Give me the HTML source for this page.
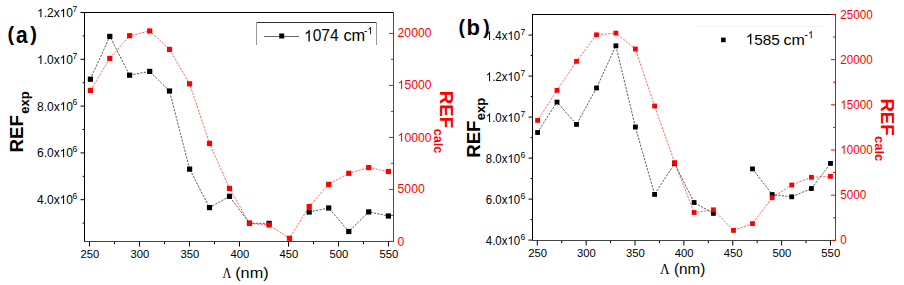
<!DOCTYPE html>
<html><head><meta charset="utf-8"><title>chart</title>
<style>
html,body{margin:0;padding:0;background:#fff;}
body{width:904px;height:285px;overflow:hidden;font-family:"Liberation Sans", sans-serif;}
svg{display:block;}
</style></head><body>
<svg width="904" height="285" viewBox="0 0 904 285">
<rect width="904" height="285" fill="#fff"/>
<polyline points="90.4,79.2 109.8,36.4 129.6,75.2 149.7,71.4 169.5,91.0 189.6,169.1 209.5,207.6 229.5,196.3 249.5,223.2 269.1,223.4" fill="none" stroke="#000" stroke-width="0.65" stroke-dasharray="2.2 1.3"/>
<polyline points="309.2,212.0 328.7,208.0 348.8,231.5 368.7,211.9 388.4,216.0" fill="none" stroke="#000" stroke-width="0.65" stroke-dasharray="2.2 1.3"/>
<polyline points="90.4,90.4 109.8,58.4 129.6,35.7 149.7,31.0 169.5,49.4 189.6,83.8 209.5,143.4 229.5,188.4 249.5,223.4 269.1,225.0 289.5,238.3 309.2,206.5 328.7,184.4 348.8,173.3 368.7,167.6 388.4,171.5" fill="none" stroke="#ff0000" stroke-width="0.6" stroke-dasharray="2.2 1.3"/>
<rect x="87.80" y="76.60" width="5.2" height="5.2" fill="#000"/>
<rect x="107.20" y="33.80" width="5.2" height="5.2" fill="#000"/>
<rect x="127.00" y="72.60" width="5.2" height="5.2" fill="#000"/>
<rect x="147.10" y="68.80" width="5.2" height="5.2" fill="#000"/>
<rect x="166.90" y="88.40" width="5.2" height="5.2" fill="#000"/>
<rect x="187.00" y="166.50" width="5.2" height="5.2" fill="#000"/>
<rect x="206.90" y="205.00" width="5.2" height="5.2" fill="#000"/>
<rect x="226.90" y="193.70" width="5.2" height="5.2" fill="#000"/>
<rect x="246.90" y="220.60" width="5.2" height="5.2" fill="#000"/>
<rect x="266.50" y="220.80" width="5.2" height="5.2" fill="#000"/>
<rect x="306.60" y="209.40" width="5.2" height="5.2" fill="#000"/>
<rect x="326.10" y="205.40" width="5.2" height="5.2" fill="#000"/>
<rect x="346.20" y="228.90" width="5.2" height="5.2" fill="#000"/>
<rect x="366.10" y="209.30" width="5.2" height="5.2" fill="#000"/>
<rect x="385.80" y="213.40" width="5.2" height="5.2" fill="#000"/>
<rect x="87.80" y="87.80" width="5.2" height="5.2" fill="#ff0000"/>
<rect x="107.20" y="55.80" width="5.2" height="5.2" fill="#ff0000"/>
<rect x="127.00" y="33.10" width="5.2" height="5.2" fill="#ff0000"/>
<rect x="147.10" y="28.40" width="5.2" height="5.2" fill="#ff0000"/>
<rect x="166.90" y="46.80" width="5.2" height="5.2" fill="#ff0000"/>
<rect x="187.00" y="81.20" width="5.2" height="5.2" fill="#ff0000"/>
<rect x="206.90" y="140.80" width="5.2" height="5.2" fill="#ff0000"/>
<rect x="226.90" y="185.80" width="5.2" height="5.2" fill="#ff0000"/>
<rect x="246.90" y="220.80" width="5.2" height="5.2" fill="#ff0000"/>
<rect x="266.50" y="222.40" width="5.2" height="5.2" fill="#ff0000"/>
<rect x="286.90" y="235.70" width="5.2" height="5.2" fill="#ff0000"/>
<rect x="306.60" y="203.90" width="5.2" height="5.2" fill="#ff0000"/>
<rect x="326.10" y="181.80" width="5.2" height="5.2" fill="#ff0000"/>
<rect x="346.20" y="170.70" width="5.2" height="5.2" fill="#ff0000"/>
<rect x="366.10" y="165.00" width="5.2" height="5.2" fill="#ff0000"/>
<rect x="385.80" y="168.90" width="5.2" height="5.2" fill="#ff0000"/>
<line x1="84" y1="12.5" x2="393.5" y2="12.5" stroke="#000" stroke-width="1" />
<line x1="84.5" y1="12" x2="84.5" y2="242" stroke="#000" stroke-width="1" />
<line x1="84" y1="241.5" x2="393" y2="241.5" stroke="#444" stroke-width="1" />
<line x1="393.5" y1="12" x2="393.5" y2="242" stroke="#ff0000" stroke-width="1" />
<line x1="80.5" y1="12.5" x2="84" y2="12.5" stroke="#000" stroke-width="1" />
<path d="M763,0L583,0L583,1147Q518,1085 412.5,1023Q307,961 223,930L223,1104Q374,1175 486.5,1276Q599,1377 646,1472L763,1472Z" fill="#000" transform="translate(36.971,17.300) scale(0.00586,-0.00586)"/>
<text x="43.645" y="17.300" font-size="12" fill="#000" font-family='"Liberation Sans", sans-serif' style="white-space:pre">.2x</text>
<path d="M763,0L583,0L583,1147Q518,1085 412.5,1023Q307,961 223,930L223,1104Q374,1175 486.5,1276Q599,1377 646,1472L763,1472Z" fill="#000" transform="translate(59.652,17.300) scale(0.00586,-0.00586)"/>
<text x="66.326" y="17.300" font-size="12" fill="#000" font-family='"Liberation Sans", sans-serif' style="white-space:pre">0</text>
<text x="72.6" y="12.100000000000001" font-size="8.6" fill="#000" text-anchor="start" font-weight="normal" font-family='"Liberation Sans", sans-serif' >7</text>
<line x1="80.5" y1="59.3" x2="84" y2="59.3" stroke="#000" stroke-width="1" />
<path d="M763,0L583,0L583,1147Q518,1085 412.5,1023Q307,961 223,930L223,1104Q374,1175 486.5,1276Q599,1377 646,1472L763,1472Z" fill="#000" transform="translate(36.971,64.000) scale(0.00586,-0.00586)"/>
<text x="43.645" y="64.000" font-size="12" fill="#000" font-family='"Liberation Sans", sans-serif' style="white-space:pre">.0x</text>
<path d="M763,0L583,0L583,1147Q518,1085 412.5,1023Q307,961 223,930L223,1104Q374,1175 486.5,1276Q599,1377 646,1472L763,1472Z" fill="#000" transform="translate(59.652,64.000) scale(0.00586,-0.00586)"/>
<text x="66.326" y="64.000" font-size="12" fill="#000" font-family='"Liberation Sans", sans-serif' style="white-space:pre">0</text>
<text x="72.6" y="58.8" font-size="8.6" fill="#000" text-anchor="start" font-weight="normal" font-family='"Liberation Sans", sans-serif' >7</text>
<line x1="80.5" y1="106.1" x2="84" y2="106.1" stroke="#000" stroke-width="1" />
<text x="36.971" y="110.600" font-size="12" fill="#000" font-family='"Liberation Sans", sans-serif' style="white-space:pre">8.0x</text>
<path d="M763,0L583,0L583,1147Q518,1085 412.5,1023Q307,961 223,930L223,1104Q374,1175 486.5,1276Q599,1377 646,1472L763,1472Z" fill="#000" transform="translate(59.652,110.600) scale(0.00586,-0.00586)"/>
<text x="66.326" y="110.600" font-size="12" fill="#000" font-family='"Liberation Sans", sans-serif' style="white-space:pre">0</text>
<text x="72.6" y="105.39999999999999" font-size="8.6" fill="#000" text-anchor="start" font-weight="normal" font-family='"Liberation Sans", sans-serif' >6</text>
<line x1="80.5" y1="152.9" x2="84" y2="152.9" stroke="#000" stroke-width="1" />
<text x="36.971" y="157.300" font-size="12" fill="#000" font-family='"Liberation Sans", sans-serif' style="white-space:pre">6.0x</text>
<path d="M763,0L583,0L583,1147Q518,1085 412.5,1023Q307,961 223,930L223,1104Q374,1175 486.5,1276Q599,1377 646,1472L763,1472Z" fill="#000" transform="translate(59.652,157.300) scale(0.00586,-0.00586)"/>
<text x="66.326" y="157.300" font-size="12" fill="#000" font-family='"Liberation Sans", sans-serif' style="white-space:pre">0</text>
<text x="72.6" y="152.10000000000002" font-size="8.6" fill="#000" text-anchor="start" font-weight="normal" font-family='"Liberation Sans", sans-serif' >6</text>
<line x1="80.5" y1="199.7" x2="84" y2="199.7" stroke="#000" stroke-width="1" />
<text x="36.971" y="203.900" font-size="12" fill="#000" font-family='"Liberation Sans", sans-serif' style="white-space:pre">4.0x</text>
<path d="M763,0L583,0L583,1147Q518,1085 412.5,1023Q307,961 223,930L223,1104Q374,1175 486.5,1276Q599,1377 646,1472L763,1472Z" fill="#000" transform="translate(59.652,203.900) scale(0.00586,-0.00586)"/>
<text x="66.326" y="203.900" font-size="12" fill="#000" font-family='"Liberation Sans", sans-serif' style="white-space:pre">0</text>
<text x="72.6" y="198.70000000000002" font-size="8.6" fill="#000" text-anchor="start" font-weight="normal" font-family='"Liberation Sans", sans-serif' >6</text>
<line x1="82.6" y1="35.9" x2="84" y2="35.9" stroke="#000" stroke-width="1" />
<line x1="82.6" y1="82.7" x2="84" y2="82.7" stroke="#000" stroke-width="1" />
<line x1="82.6" y1="129.5" x2="84" y2="129.5" stroke="#000" stroke-width="1" />
<line x1="82.6" y1="176.3" x2="84" y2="176.3" stroke="#000" stroke-width="1" />
<line x1="82.6" y1="223.1" x2="84" y2="223.1" stroke="#000" stroke-width="1" />
<line x1="89.5" y1="242" x2="89.5" y2="246.5" stroke="#000" stroke-width="1" />
<text transform="translate(80.385,258.000) scale(1.0450,1)" font-size="10.8" fill="#000" font-family='"Liberation Sans", sans-serif' style="white-space:pre">250</text>
<line x1="139.5" y1="242" x2="139.5" y2="246.5" stroke="#000" stroke-width="1" />
<text transform="translate(130.385,258.000) scale(1.0450,1)" font-size="10.8" fill="#000" font-family='"Liberation Sans", sans-serif' style="white-space:pre">300</text>
<line x1="189.5" y1="242" x2="189.5" y2="246.5" stroke="#000" stroke-width="1" />
<text transform="translate(180.385,258.000) scale(1.0450,1)" font-size="10.8" fill="#000" font-family='"Liberation Sans", sans-serif' style="white-space:pre">350</text>
<line x1="239.5" y1="242" x2="239.5" y2="246.5" stroke="#000" stroke-width="1" />
<text transform="translate(230.385,258.000) scale(1.0450,1)" font-size="10.8" fill="#000" font-family='"Liberation Sans", sans-serif' style="white-space:pre">400</text>
<line x1="288.5" y1="242" x2="288.5" y2="246.5" stroke="#000" stroke-width="1" />
<text transform="translate(279.385,258.000) scale(1.0450,1)" font-size="10.8" fill="#000" font-family='"Liberation Sans", sans-serif' style="white-space:pre">450</text>
<line x1="338.5" y1="242" x2="338.5" y2="246.5" stroke="#000" stroke-width="1" />
<text transform="translate(329.385,258.000) scale(1.0450,1)" font-size="10.8" fill="#000" font-family='"Liberation Sans", sans-serif' style="white-space:pre">500</text>
<line x1="388.5" y1="242" x2="388.5" y2="246.5" stroke="#000" stroke-width="1" />
<text transform="translate(379.385,258.000) scale(1.0450,1)" font-size="10.8" fill="#000" font-family='"Liberation Sans", sans-serif' style="white-space:pre">550</text>
<line x1="114.5" y1="242" x2="114.5" y2="244.2" stroke="#000" stroke-width="1" />
<line x1="164.5" y1="242" x2="164.5" y2="244.2" stroke="#000" stroke-width="1" />
<line x1="214.5" y1="242" x2="214.5" y2="244.2" stroke="#000" stroke-width="1" />
<line x1="313.5" y1="242" x2="313.5" y2="244.2" stroke="#000" stroke-width="1" />
<line x1="363.5" y1="242" x2="363.5" y2="244.2" stroke="#000" stroke-width="1" />
<line x1="389" y1="241.4" x2="393" y2="241.4" stroke="#ff0000" stroke-width="1" />
<text x="397.600" y="245.600" font-size="12.2" fill="#ff0000" font-family='"Liberation Sans", sans-serif' style="white-space:pre">0</text>
<line x1="389" y1="189.4" x2="393" y2="189.4" stroke="#ff0000" stroke-width="1" />
<text x="397.600" y="193.400" font-size="12.2" fill="#ff0000" font-family='"Liberation Sans", sans-serif' style="white-space:pre">5000</text>
<line x1="389" y1="137.4" x2="393" y2="137.4" stroke="#ff0000" stroke-width="1" />
<path d="M763,0L583,0L583,1147Q518,1085 412.5,1023Q307,961 223,930L223,1104Q374,1175 486.5,1276Q599,1377 646,1472L763,1472Z" fill="#ff0000" transform="translate(397.600,141.500) scale(0.00596,-0.00596)"/>
<text x="404.385" y="141.500" font-size="12.2" fill="#ff0000" font-family='"Liberation Sans", sans-serif' style="white-space:pre">0000</text>
<line x1="389" y1="85.4" x2="393" y2="85.4" stroke="#ff0000" stroke-width="1" />
<path d="M763,0L583,0L583,1147Q518,1085 412.5,1023Q307,961 223,930L223,1104Q374,1175 486.5,1276Q599,1377 646,1472L763,1472Z" fill="#ff0000" transform="translate(397.600,89.100) scale(0.00596,-0.00596)"/>
<text x="404.385" y="89.100" font-size="12.2" fill="#ff0000" font-family='"Liberation Sans", sans-serif' style="white-space:pre">5000</text>
<line x1="389" y1="33.4" x2="393" y2="33.4" stroke="#ff0000" stroke-width="1" />
<text x="397.600" y="37.000" font-size="12.2" fill="#ff0000" font-family='"Liberation Sans", sans-serif' style="white-space:pre">20000</text>
<line x1="391" y1="215.4" x2="393" y2="215.4" stroke="#ff0000" stroke-width="1" />
<line x1="391" y1="163.4" x2="393" y2="163.4" stroke="#ff0000" stroke-width="1" />
<line x1="391" y1="111.4" x2="393" y2="111.4" stroke="#ff0000" stroke-width="1" />
<line x1="391" y1="59.4" x2="393" y2="59.4" stroke="#ff0000" stroke-width="1" />
<polyline points="537.6,132.5 557.0,102.1 576.5,124.4 596.5,88.0 615.9,45.8 635.4,127.0 654.6,194.4 674.6,163.5 694.1,202.5 713.4,213.4" fill="none" stroke="#000" stroke-width="0.65" stroke-dasharray="2.2 1.3"/>
<polyline points="752.5,168.9 772.2,194.5 791.7,196.8 811.4,188.5 830.5,163.4" fill="none" stroke="#000" stroke-width="0.65" stroke-dasharray="2.2 1.3"/>
<polyline points="537.6,120.4 557.0,90.4 576.5,61.3 596.5,34.8 615.9,33.1 635.4,49.0 654.6,106.0 674.6,162.6 694.1,212.5 713.4,209.8 733.5,230.4 752.5,223.6 772.2,197.7 791.7,185.0 811.4,177.3 830.5,176.4" fill="none" stroke="#ff0000" stroke-width="0.6" stroke-dasharray="2.2 1.3"/>
<rect x="535.20" y="130.10" width="4.8" height="4.8" fill="#000"/>
<rect x="554.60" y="99.70" width="4.8" height="4.8" fill="#000"/>
<rect x="574.10" y="122.00" width="4.8" height="4.8" fill="#000"/>
<rect x="594.10" y="85.60" width="4.8" height="4.8" fill="#000"/>
<rect x="613.50" y="43.40" width="4.8" height="4.8" fill="#000"/>
<rect x="633.00" y="124.60" width="4.8" height="4.8" fill="#000"/>
<rect x="652.20" y="192.00" width="4.8" height="4.8" fill="#000"/>
<rect x="672.20" y="161.10" width="4.8" height="4.8" fill="#000"/>
<rect x="691.70" y="200.10" width="4.8" height="4.8" fill="#000"/>
<rect x="711.00" y="211.00" width="4.8" height="4.8" fill="#000"/>
<rect x="750.10" y="166.50" width="4.8" height="4.8" fill="#000"/>
<rect x="769.80" y="192.10" width="4.8" height="4.8" fill="#000"/>
<rect x="789.30" y="194.40" width="4.8" height="4.8" fill="#000"/>
<rect x="809.00" y="186.10" width="4.8" height="4.8" fill="#000"/>
<rect x="828.10" y="161.00" width="4.8" height="4.8" fill="#000"/>
<rect x="535.20" y="118.00" width="4.8" height="4.8" fill="#ff0000"/>
<rect x="554.60" y="88.00" width="4.8" height="4.8" fill="#ff0000"/>
<rect x="574.10" y="58.90" width="4.8" height="4.8" fill="#ff0000"/>
<rect x="594.10" y="32.40" width="4.8" height="4.8" fill="#ff0000"/>
<rect x="613.50" y="30.70" width="4.8" height="4.8" fill="#ff0000"/>
<rect x="633.00" y="46.60" width="4.8" height="4.8" fill="#ff0000"/>
<rect x="652.20" y="103.60" width="4.8" height="4.8" fill="#ff0000"/>
<rect x="672.20" y="160.20" width="4.8" height="4.8" fill="#ff0000"/>
<rect x="691.70" y="210.10" width="4.8" height="4.8" fill="#ff0000"/>
<rect x="711.00" y="207.40" width="4.8" height="4.8" fill="#ff0000"/>
<rect x="731.10" y="228.00" width="4.8" height="4.8" fill="#ff0000"/>
<rect x="750.10" y="221.20" width="4.8" height="4.8" fill="#ff0000"/>
<rect x="769.80" y="195.30" width="4.8" height="4.8" fill="#ff0000"/>
<rect x="789.30" y="182.60" width="4.8" height="4.8" fill="#ff0000"/>
<rect x="809.00" y="174.90" width="4.8" height="4.8" fill="#ff0000"/>
<rect x="828.10" y="174.00" width="4.8" height="4.8" fill="#ff0000"/>
<line x1="532" y1="14.5" x2="835.5" y2="14.5" stroke="#000" stroke-width="1" />
<line x1="532.5" y1="14" x2="532.5" y2="241" stroke="#000" stroke-width="1" />
<line x1="532" y1="240.5" x2="835" y2="240.5" stroke="#444" stroke-width="1" />
<line x1="835.5" y1="14" x2="835.5" y2="241" stroke="#ff0000" stroke-width="1" />
<line x1="528.5" y1="35.1" x2="532" y2="35.1" stroke="#000" stroke-width="1" />
<path d="M763,0L583,0L583,1147Q518,1085 412.5,1023Q307,961 223,930L223,1104Q374,1175 486.5,1276Q599,1377 646,1472L763,1472Z" fill="#000" transform="translate(485.792,39.900) scale(0.00560,-0.00586)"/>
<text transform="translate(492.166,39.900) scale(0.9550,1)" font-size="12" fill="#000" font-family='"Liberation Sans", sans-serif' style="white-space:pre">.4x</text>
<path d="M763,0L583,0L583,1147Q518,1085 412.5,1023Q307,961 223,930L223,1104Q374,1175 486.5,1276Q599,1377 646,1472L763,1472Z" fill="#000" transform="translate(507.453,39.900) scale(0.00560,-0.00586)"/>
<text transform="translate(513.826,39.900) scale(0.9550,1)" font-size="12" fill="#000" font-family='"Liberation Sans", sans-serif' style="white-space:pre">0</text>
<text x="520.6" y="34.699999999999996" font-size="8.6" fill="#000" text-anchor="start" font-weight="normal" font-family='"Liberation Sans", sans-serif' >7</text>
<line x1="528.5" y1="76.1" x2="532" y2="76.1" stroke="#000" stroke-width="1" />
<path d="M763,0L583,0L583,1147Q518,1085 412.5,1023Q307,961 223,930L223,1104Q374,1175 486.5,1276Q599,1377 646,1472L763,1472Z" fill="#000" transform="translate(485.792,80.900) scale(0.00560,-0.00586)"/>
<text transform="translate(492.166,80.900) scale(0.9550,1)" font-size="12" fill="#000" font-family='"Liberation Sans", sans-serif' style="white-space:pre">.2x</text>
<path d="M763,0L583,0L583,1147Q518,1085 412.5,1023Q307,961 223,930L223,1104Q374,1175 486.5,1276Q599,1377 646,1472L763,1472Z" fill="#000" transform="translate(507.453,80.900) scale(0.00560,-0.00586)"/>
<text transform="translate(513.826,80.900) scale(0.9550,1)" font-size="12" fill="#000" font-family='"Liberation Sans", sans-serif' style="white-space:pre">0</text>
<text x="520.6" y="75.7" font-size="8.6" fill="#000" text-anchor="start" font-weight="normal" font-family='"Liberation Sans", sans-serif' >7</text>
<line x1="528.5" y1="117.1" x2="532" y2="117.1" stroke="#000" stroke-width="1" />
<path d="M763,0L583,0L583,1147Q518,1085 412.5,1023Q307,961 223,930L223,1104Q374,1175 486.5,1276Q599,1377 646,1472L763,1472Z" fill="#000" transform="translate(485.792,121.900) scale(0.00560,-0.00586)"/>
<text transform="translate(492.166,121.900) scale(0.9550,1)" font-size="12" fill="#000" font-family='"Liberation Sans", sans-serif' style="white-space:pre">.0x</text>
<path d="M763,0L583,0L583,1147Q518,1085 412.5,1023Q307,961 223,930L223,1104Q374,1175 486.5,1276Q599,1377 646,1472L763,1472Z" fill="#000" transform="translate(507.453,121.900) scale(0.00560,-0.00586)"/>
<text transform="translate(513.826,121.900) scale(0.9550,1)" font-size="12" fill="#000" font-family='"Liberation Sans", sans-serif' style="white-space:pre">0</text>
<text x="520.6" y="116.7" font-size="8.6" fill="#000" text-anchor="start" font-weight="normal" font-family='"Liberation Sans", sans-serif' >7</text>
<line x1="528.5" y1="158.1" x2="532" y2="158.1" stroke="#000" stroke-width="1" />
<text transform="translate(485.792,162.900) scale(0.9550,1)" font-size="12" fill="#000" font-family='"Liberation Sans", sans-serif' style="white-space:pre">8.0x</text>
<path d="M763,0L583,0L583,1147Q518,1085 412.5,1023Q307,961 223,930L223,1104Q374,1175 486.5,1276Q599,1377 646,1472L763,1472Z" fill="#000" transform="translate(507.453,162.900) scale(0.00560,-0.00586)"/>
<text transform="translate(513.826,162.900) scale(0.9550,1)" font-size="12" fill="#000" font-family='"Liberation Sans", sans-serif' style="white-space:pre">0</text>
<text x="520.6" y="157.70000000000002" font-size="8.6" fill="#000" text-anchor="start" font-weight="normal" font-family='"Liberation Sans", sans-serif' >6</text>
<line x1="528.5" y1="199.1" x2="532" y2="199.1" stroke="#000" stroke-width="1" />
<text transform="translate(485.792,203.900) scale(0.9550,1)" font-size="12" fill="#000" font-family='"Liberation Sans", sans-serif' style="white-space:pre">6.0x</text>
<path d="M763,0L583,0L583,1147Q518,1085 412.5,1023Q307,961 223,930L223,1104Q374,1175 486.5,1276Q599,1377 646,1472L763,1472Z" fill="#000" transform="translate(507.453,203.900) scale(0.00560,-0.00586)"/>
<text transform="translate(513.826,203.900) scale(0.9550,1)" font-size="12" fill="#000" font-family='"Liberation Sans", sans-serif' style="white-space:pre">0</text>
<text x="520.6" y="198.70000000000002" font-size="8.6" fill="#000" text-anchor="start" font-weight="normal" font-family='"Liberation Sans", sans-serif' >6</text>
<line x1="528.5" y1="240.1" x2="532" y2="240.1" stroke="#000" stroke-width="1" />
<text transform="translate(485.792,244.800) scale(0.9550,1)" font-size="12" fill="#000" font-family='"Liberation Sans", sans-serif' style="white-space:pre">4.0x</text>
<path d="M763,0L583,0L583,1147Q518,1085 412.5,1023Q307,961 223,930L223,1104Q374,1175 486.5,1276Q599,1377 646,1472L763,1472Z" fill="#000" transform="translate(507.453,244.800) scale(0.00560,-0.00586)"/>
<text transform="translate(513.826,244.800) scale(0.9550,1)" font-size="12" fill="#000" font-family='"Liberation Sans", sans-serif' style="white-space:pre">0</text>
<text x="520.6" y="239.60000000000002" font-size="8.6" fill="#000" text-anchor="start" font-weight="normal" font-family='"Liberation Sans", sans-serif' >6</text>
<line x1="530.6" y1="55.6" x2="532" y2="55.6" stroke="#000" stroke-width="1" />
<line x1="530.6" y1="96.6" x2="532" y2="96.6" stroke="#000" stroke-width="1" />
<line x1="530.6" y1="137.6" x2="532" y2="137.6" stroke="#000" stroke-width="1" />
<line x1="530.6" y1="178.6" x2="532" y2="178.6" stroke="#000" stroke-width="1" />
<line x1="530.6" y1="219.6" x2="532" y2="219.6" stroke="#000" stroke-width="1" />
<line x1="537.3" y1="241" x2="537.3" y2="245.5" stroke="#000" stroke-width="1" />
<text transform="translate(528.185,257.000) scale(1.0450,1)" font-size="10.8" fill="#000" font-family='"Liberation Sans", sans-serif' style="white-space:pre">250</text>
<line x1="586.16" y1="241" x2="586.16" y2="245.5" stroke="#000" stroke-width="1" />
<text transform="translate(577.045,257.000) scale(1.0450,1)" font-size="10.8" fill="#000" font-family='"Liberation Sans", sans-serif' style="white-space:pre">300</text>
<line x1="635.02" y1="241" x2="635.02" y2="245.5" stroke="#000" stroke-width="1" />
<text transform="translate(625.905,257.000) scale(1.0450,1)" font-size="10.8" fill="#000" font-family='"Liberation Sans", sans-serif' style="white-space:pre">350</text>
<line x1="683.8799999999999" y1="241" x2="683.8799999999999" y2="245.5" stroke="#000" stroke-width="1" />
<text transform="translate(674.765,257.000) scale(1.0450,1)" font-size="10.8" fill="#000" font-family='"Liberation Sans", sans-serif' style="white-space:pre">400</text>
<line x1="732.74" y1="241" x2="732.74" y2="245.5" stroke="#000" stroke-width="1" />
<text transform="translate(723.625,257.000) scale(1.0450,1)" font-size="10.8" fill="#000" font-family='"Liberation Sans", sans-serif' style="white-space:pre">450</text>
<line x1="781.5999999999999" y1="241" x2="781.5999999999999" y2="245.5" stroke="#000" stroke-width="1" />
<text transform="translate(772.485,257.000) scale(1.0450,1)" font-size="10.8" fill="#000" font-family='"Liberation Sans", sans-serif' style="white-space:pre">500</text>
<line x1="830.4599999999999" y1="241" x2="830.4599999999999" y2="245.5" stroke="#000" stroke-width="1" />
<text transform="translate(821.345,257.000) scale(1.0450,1)" font-size="10.8" fill="#000" font-family='"Liberation Sans", sans-serif' style="white-space:pre">550</text>
<line x1="561.7299999999999" y1="241" x2="561.7299999999999" y2="243.2" stroke="#000" stroke-width="1" />
<line x1="610.5899999999999" y1="241" x2="610.5899999999999" y2="243.2" stroke="#000" stroke-width="1" />
<line x1="659.4499999999999" y1="241" x2="659.4499999999999" y2="243.2" stroke="#000" stroke-width="1" />
<line x1="708.31" y1="241" x2="708.31" y2="243.2" stroke="#000" stroke-width="1" />
<line x1="757.1699999999998" y1="241" x2="757.1699999999998" y2="243.2" stroke="#000" stroke-width="1" />
<line x1="806.03" y1="241" x2="806.03" y2="243.2" stroke="#000" stroke-width="1" />
<line x1="831" y1="240.4" x2="835" y2="240.4" stroke="#ff0000" stroke-width="1" />
<text transform="translate(840.300,244.200) scale(0.9550,1)" font-size="12.2" fill="#ff0000" font-family='"Liberation Sans", sans-serif' style="white-space:pre">0</text>
<line x1="831" y1="195.2" x2="835" y2="195.2" stroke="#ff0000" stroke-width="1" />
<text transform="translate(840.300,199.100) scale(0.9550,1)" font-size="12.2" fill="#ff0000" font-family='"Liberation Sans", sans-serif' style="white-space:pre">5000</text>
<line x1="831" y1="150.0" x2="835" y2="150.0" stroke="#ff0000" stroke-width="1" />
<path d="M763,0L583,0L583,1147Q518,1085 412.5,1023Q307,961 223,930L223,1104Q374,1175 486.5,1276Q599,1377 646,1472L763,1472Z" fill="#ff0000" transform="translate(840.300,154.000) scale(0.00569,-0.00596)"/>
<text transform="translate(846.780,154.000) scale(0.9550,1)" font-size="12.2" fill="#ff0000" font-family='"Liberation Sans", sans-serif' style="white-space:pre">0000</text>
<line x1="831" y1="104.8" x2="835" y2="104.8" stroke="#ff0000" stroke-width="1" />
<path d="M763,0L583,0L583,1147Q518,1085 412.5,1023Q307,961 223,930L223,1104Q374,1175 486.5,1276Q599,1377 646,1472L763,1472Z" fill="#ff0000" transform="translate(840.300,108.900) scale(0.00569,-0.00596)"/>
<text transform="translate(846.780,108.900) scale(0.9550,1)" font-size="12.2" fill="#ff0000" font-family='"Liberation Sans", sans-serif' style="white-space:pre">5000</text>
<line x1="831" y1="59.6" x2="835" y2="59.6" stroke="#ff0000" stroke-width="1" />
<text transform="translate(840.300,63.800) scale(0.9550,1)" font-size="12.2" fill="#ff0000" font-family='"Liberation Sans", sans-serif' style="white-space:pre">20000</text>
<line x1="831" y1="14.4" x2="835" y2="14.4" stroke="#ff0000" stroke-width="1" />
<text transform="translate(840.300,18.700) scale(0.9550,1)" font-size="12.2" fill="#ff0000" font-family='"Liberation Sans", sans-serif' style="white-space:pre">25000</text>
<line x1="833" y1="217.8" x2="835" y2="217.8" stroke="#ff0000" stroke-width="1" />
<line x1="833" y1="172.6" x2="835" y2="172.6" stroke="#ff0000" stroke-width="1" />
<line x1="833" y1="127.4" x2="835" y2="127.4" stroke="#ff0000" stroke-width="1" />
<line x1="833" y1="82.2" x2="835" y2="82.2" stroke="#ff0000" stroke-width="1" />
<line x1="833" y1="37.0" x2="835" y2="37.0" stroke="#ff0000" stroke-width="1" />
<line x1="256" y1="22.5" x2="377" y2="22.5" stroke="#333" stroke-width="1" />
<line x1="256.5" y1="22" x2="256.5" y2="45" stroke="#999" stroke-width="1" />
<line x1="376.5" y1="22" x2="376.5" y2="45" stroke="#999" stroke-width="1" />
<line x1="264" y1="36.5" x2="299" y2="36.5" stroke="#666" stroke-width="1" />
<rect x="279.2" y="33.5" width="5" height="5" fill="#000"/>
<path d="M763,0L583,0L583,1147Q518,1085 412.5,1023Q307,961 223,930L223,1104Q374,1175 486.5,1276Q599,1377 646,1472L763,1472Z" fill="#000" transform="translate(304.000,41.400) scale(0.00759,-0.00776)"/>
<text transform="translate(312.650,41.400) scale(0.9782,1)" font-size="15.9" fill="#000" font-family='"Liberation Sans", sans-serif' style="white-space:pre">074</text>
<text x="343.4" y="41.4" font-size="15.9" fill="#000" text-anchor="start" font-weight="normal" font-family='"Liberation Sans", sans-serif' textLength="21.8" lengthAdjust="spacingAndGlyphs">cm</text>
<text x="364.000" y="34.300" font-size="10" fill="#000" font-family='"Liberation Sans", sans-serif' style="white-space:pre">-</text>
<path d="M763,0L583,0L583,1147Q518,1085 412.5,1023Q307,961 223,930L223,1104Q374,1175 486.5,1276Q599,1377 646,1472L763,1472Z" fill="#000" transform="translate(367.330,34.300) scale(0.00488,-0.00488)"/>
<text x="7.4" y="41.0" font-size="20" fill="#000" text-anchor="start" font-weight="bold" font-family='"Liberation Sans", sans-serif' >(</text>
<text transform="translate(16.0,42.6) scale(0.95,1.1)" font-size="22" font-weight="bold" font-family='"Liberation Sans", sans-serif' fill="#000">a</text>
<text x="30.2" y="41.0" font-size="20" fill="#000" text-anchor="start" font-weight="bold" font-family='"Liberation Sans", sans-serif' >)</text>
<text transform="translate(22.7,152.4) rotate(-90)" font-family='"Liberation Sans", sans-serif' font-weight="bold" font-size="18.6" fill="#000">REF</text>
<text transform="translate(28.8,113.8) rotate(-90)" font-family='"Liberation Sans", sans-serif' font-weight="bold" font-size="13" fill="#000">exp</text>
<text transform="translate(440.1,90.8) rotate(90)" font-family='"Liberation Sans", sans-serif' font-weight="bold" font-size="18.6" fill="#ff0000">REF</text>
<text transform="translate(434.4,128.8) rotate(90)" font-family='"Liberation Sans", sans-serif' font-weight="bold" font-size="12.6" fill="#ff0000">calc</text>
<text x="222.6" y="277.7" font-size="14.2" fill="#000" text-anchor="start" font-weight="normal" font-family='"Liberation Serif", serif' textLength="8.9" lengthAdjust="spacingAndGlyphs">Λ</text>
<text x="235.2" y="277.7" font-size="15.5" fill="#000" text-anchor="start" font-weight="normal" font-family='"Liberation Sans", sans-serif' textLength="33.4" lengthAdjust="spacingAndGlyphs">(nm)</text>
<line x1="698" y1="26.5" x2="823" y2="26.5" stroke="#f4f4f4" stroke-width="1" />
<rect x="721" y="37.6" width="4.6" height="4.6" fill="#000"/>
<path d="M763,0L583,0L583,1147Q518,1085 412.5,1023Q307,961 223,930L223,1104Q374,1175 486.5,1276Q599,1377 646,1472L763,1472Z" fill="#000" transform="translate(745.600,44.500) scale(0.00751,-0.00747)"/>
<text transform="translate(754.150,44.500) scale(1.0048,1)" font-size="15.3" fill="#000" font-family='"Liberation Sans", sans-serif' style="white-space:pre">585</text>
<text x="783.6" y="44.5" font-size="15.3" fill="#000" text-anchor="start" font-weight="normal" font-family='"Liberation Sans", sans-serif' textLength="21.4" lengthAdjust="spacingAndGlyphs">cm</text>
<text x="804.600" y="38.200" font-size="10" fill="#000" font-family='"Liberation Sans", sans-serif' style="white-space:pre">-</text>
<path d="M763,0L583,0L583,1147Q518,1085 412.5,1023Q307,961 223,930L223,1104Q374,1175 486.5,1276Q599,1377 646,1472L763,1472Z" fill="#000" transform="translate(807.930,38.200) scale(0.00488,-0.00488)"/>
<text x="458.4" y="33.6" font-size="19.4" fill="#000" text-anchor="start" font-weight="bold" font-family='"Liberation Sans", sans-serif' >(</text>
<text x="466.6" y="35.0" font-size="22" fill="#000" text-anchor="start" font-weight="bold" font-family='"Liberation Sans", sans-serif' >b</text>
<text x="483.2" y="33.6" font-size="19.4" fill="#000" text-anchor="start" font-weight="bold" font-family='"Liberation Sans", sans-serif' >)</text>
<text transform="translate(479.6,157.8) rotate(-90)" font-family='"Liberation Sans", sans-serif' font-weight="bold" font-size="18.6" fill="#000">REF</text>
<text transform="translate(485.2,120.2) rotate(-90)" font-family='"Liberation Sans", sans-serif' font-weight="bold" font-size="13" fill="#000">exp</text>
<text transform="translate(880.7,98.4) rotate(90)" font-family='"Liberation Sans", sans-serif' font-weight="bold" font-size="18.6" fill="#ff0000">REF</text>
<text transform="translate(875.0,136.0) rotate(90)" font-family='"Liberation Sans", sans-serif' font-weight="bold" font-size="13" fill="#ff0000">calc</text>
<text x="660.0" y="273.9" font-size="14.2" fill="#000" text-anchor="start" font-weight="normal" font-family='"Liberation Serif", serif' textLength="9.6" lengthAdjust="spacingAndGlyphs">Λ</text>
<text x="673.9" y="273.9" font-size="15.5" fill="#000" text-anchor="start" font-weight="normal" font-family='"Liberation Sans", sans-serif' textLength="31.4" lengthAdjust="spacingAndGlyphs">(nm)</text>
</svg>
</body></html>
